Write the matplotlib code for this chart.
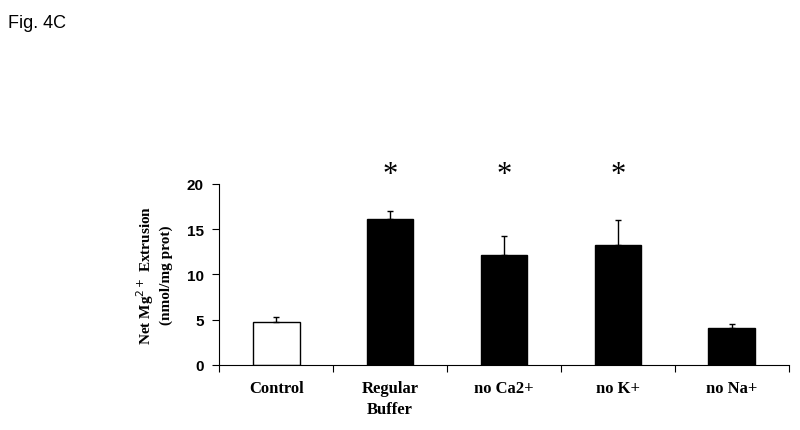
import matplotlib.pyplot as plt
import numpy as np

categories = ["Control", "Regular\nBuffer", "no Ca2+", "no K+", "no Na+"]
means = [4.7, 16.1, 12.1, 13.3, 4.05]
errors = [0.55, 0.95, 2.1, 2.7, 0.45]
colors = ["white", "black", "black", "black", "black"]
significant = [False, True, True, True, False]


def graph():
    fig = plt.figure(figsize=(8, 4.31), dpi=100)
    ax = fig.add_axes([0.274, 0.151, 0.712, 0.42])

    x = np.arange(len(categories))
    ax.bar(x, means, width=0.41, color=colors, edgecolor="black", linewidth=1.0,
           yerr=[np.zeros(len(errors)), errors], capsize=2,
           error_kw={"elinewidth": 1.0, "capthick": 1.0, "ecolor": "black"})

    for xi, s in zip(x, significant):
        if s:
            ax.text(xi, 21.0, "*", ha="center", va="center", fontsize=22,
                    family="Liberation Serif", clip_on=False)

    ax.set_xlim(-0.5, len(categories) - 0.5)
    ax.set_ylim(0, 20)
    ax.set_yticks([0, 5, 10, 15, 20])
    ax.set_xticks(np.arange(len(categories) + 1) - 0.5)
    ax.set_xticklabels([])
    ax.set_xticks(x, minor=True)
    ax.set_xticklabels(categories, minor=True, linespacing=1.4)
    ax.tick_params(axis="x", which="minor", length=0, pad=11)
    ax.tick_params(axis="x", which="major", length=5, direction="out")
    ax.tick_params(axis="y", length=5, direction="out", pad=6)

    for lab in ax.get_xticklabels(minor=True):
        lab.set_family("Liberation Serif")
        lab.set_fontweight("bold")
        lab.set_fontsize(12)
    for lab in ax.get_yticklabels():
        lab.set_family("Liberation Sans")
        lab.set_fontweight("bold")
        lab.set_fontsize(11)

    ax.spines["top"].set_visible(False)
    ax.spines["right"].set_visible(False)
    ax.set_ylabel("Net Mg$^{2+}$ Extrusion\n(nmol/mg prot)", family="Liberation Serif",
                  fontweight="bold", fontsize=11, labelpad=10, linespacing=1.3)

    fig.text(0.01, 0.965, "Fig. 4C", family="Liberation Sans", fontsize=13,
             va="top", ha="left")

    fig.savefig("out.png")


if __name__ == "__main__":
    graph()
